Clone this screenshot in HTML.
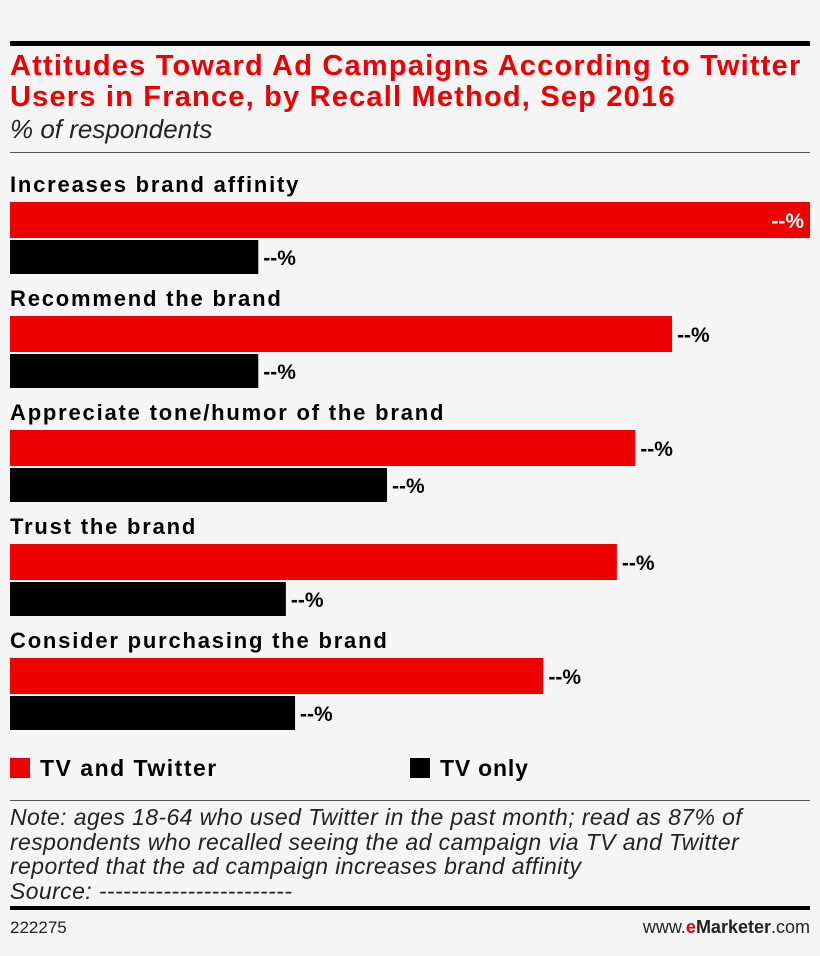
<!DOCTYPE html>
<html><head><meta charset="utf-8"><style>
body{margin:0;background:#f5f5f5;width:820px;height:956px;overflow:hidden;font-family:"Liberation Sans",sans-serif;}
.abs{position:absolute;}
</style></head><body>
<div class="abs" style="left:10px;top:41px;width:800px;height:5px;background:#000"></div>
<div class="abs" style="left:10px;top:51px;width:820px;color:#e00;font-weight:bold;font-size:29px;line-height:31px;letter-spacing:1.2px;white-space:nowrap;">Attitudes Toward Ad Campaigns According to Twitter<br>Users in France, by Recall Method, Sep 2016</div>
<div class="abs" style="left:10px;top:114px;font-style:italic;font-size:26px;color:#222;">% of respondents</div>
<div class="abs" style="left:10px;top:152px;width:800px;height:1px;background:#555"></div>
<svg id="chart" class="abs" style="left:0;top:160px" width="820" height="580"></svg>
<div class="abs" style="left:10px;top:755px;font-weight:bold;font-size:23px;letter-spacing:1.5px;"><span style="display:inline-block;width:20px;height:20px;background:#e00;vertical-align:-2px;margin-right:10px"></span>TV and Twitter</div>
<div class="abs" style="left:410px;top:755px;font-weight:bold;font-size:23px;letter-spacing:0.8px;"><span style="display:inline-block;width:20px;height:20px;background:#000;vertical-align:-2px;margin-right:10px"></span>TV only</div>
<div class="abs" style="left:10px;top:800px;width:800px;height:1px;background:#555"></div>
<div class="abs" style="left:10px;top:805px;width:820px;white-space:nowrap;font-style:italic;font-size:23px;line-height:24.5px;letter-spacing:0.4px;color:#222;">Note: ages 18-64 who used Twitter in the past month; read as 87% of<br>respondents who recalled seeing the ad campaign via TV and Twitter<br>reported that the ad campaign increases brand affinity<br>Source: ------------------------</div>
<div class="abs" style="left:10px;top:906px;width:800px;height:4px;background:#000"></div>
<div class="abs" style="left:10px;top:918px;font-size:17px;color:#222;">222275</div>
<div class="abs" style="right:10px;top:917px;font-size:18px;color:#222;">www.<b style="color:#e00">e</b><b>Marketer</b>.com</div>
<script>
const categories=["Increases brand affinity","Recommend the brand","Appreciate tone/humor of the brand","Trust the brand","Consider purchasing the brand"];
const tvTwitter=[87,72,68,66,58];
const tvOnly=[27,27,41,30,31];
const valueLabels=["--%","--%","--%","--%","--%"];
const svg=document.getElementById('chart');
const NS='http://www.w3.org/2000/svg';
const x0=10,xScale=v=>v*800/87;
const groupY=i=>i*114;
function el(t,a){const e=document.createElementNS(NS,t);for(const k in a)e.setAttribute(k,a[k]);svg.appendChild(e);return e;}
categories.forEach((c,i)=>{
 const gy=groupY(i);
 const t=el('text',{x:10,y:gy+32,'font-size':22,'font-weight':'bold',fill:'#000','letter-spacing':1.8});t.textContent=c;
 
 
 const r=el('rect',{x:x0,y:gy+42,width:xScale(tvTwitter[i]),height:36,fill:'#ee0000'});
 
 
 const b=el('rect',{x:x0,y:gy+80,width:xScale(tvOnly[i]),height:34,fill:'#000'});
 
 
 const rw=xScale(tvTwitter[i]);const inside=rw>760;
 const l1=el('text',{x:inside?x0+rw-6:x0+rw+5,y:gy+68,'font-size':21,'font-weight':'bold',fill:inside?'#fff':'#000','text-anchor':inside?'end':'start'});l1.textContent=valueLabels[i];
 
 
 const l2=el('text',{x:x0+xScale(tvOnly[i])+5,y:gy+105,'font-size':21,'font-weight':'bold',fill:'#000'});l2.textContent=valueLabels[i];
 
 
});
</script>
</body></html>
